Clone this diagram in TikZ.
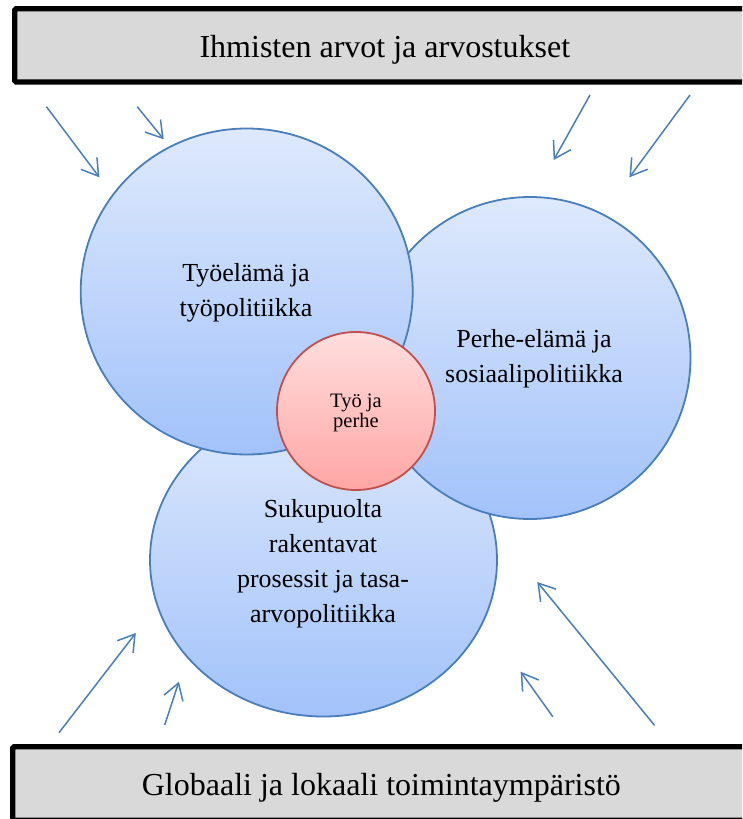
\documentclass[tikz,border=0pt]{standalone}
\usepackage{fontspec}
\setmainfont{Liberation Serif}
\usetikzlibrary{arrows.meta,shapes.geometric}
\definecolor{cblue}{RGB}{74,126,187}
\definecolor{ctop}{RGB}{222,233,252}
\definecolor{cbot}{RGB}{162,194,250}
\definecolor{rtop}{RGB}{255,222,222}
\definecolor{rbot}{RGB}{255,166,164}
\definecolor{rline}{RGB}{192,80,77}
\definecolor{bargray}{RGB}{217,217,217}
\begin{document}
\begin{tikzpicture}[x=1pt,y=-1pt,
  bluecirc/.style={ellipse, draw=cblue, line width=1.8pt, top color=ctop, bottom color=cbot, inner sep=0pt},
  redcirc/.style={circle, draw=rline, line width=1.8pt, top color=rtop, bottom color=rbot, inner sep=0pt, minimum size=158pt},
  bar/.style={draw=black, line width=5.3pt, fill=bargray, rounded corners=1.5pt, font=\fontsize{32}{38}\selectfont, text height=24pt, text depth=0pt, inner sep=0pt},
  ctext/.style={align=center, font=\fontsize{26}{35}\selectfont, inner sep=0pt},
  rtext/.style={align=center, font=\fontsize{20.5}{20}\selectfont, inner sep=0pt},
  flow/.style={draw=cblue, line width=1.5pt, -{Straight Barb[length=16pt,width=20pt]}},
]
\useasboundingbox (0,0) rectangle (742,819);
\clip (0,0) rectangle (742,819);

% bars
\node[bar, minimum width=740.3pt, minimum height=73.3pt] (top) at (384.85,45.35) {Ihmisten arvot ja arvostukset};
\node[bar, minimum width=737.3pt, minimum height=73.6pt] (bottom) at (381.35,783.5) {Globaali ja lokaali toimintaympäristö};

% circles
\node[bluecirc, minimum width=347pt, minimum height=313pt] (gender) at (323.5,560) {};
\node[bluecirc, minimum width=321pt, minimum height=322pt] (family) at (530,358) {};
\node[bluecirc, minimum width=332pt, minimum height=326pt] (work) at (246.7,291.5) {};
\node[redcirc] (both) at (356,411) {};

% texts (anchor=base is the baseline of the last line)
\node[ctext, anchor=base] (workt) at (246,316) {Työelämä ja\\työpolitiikka};
\node[ctext, anchor=base] (familyt) at (534,382.7) {Perhe-elämä ja\\sosiaalipolitiikka};
\node[ctext, anchor=base] (gendert) at (323,622) {Sukupuolta\\rakentavat\\prosessit ja tasa-\\arvopolitiikka};
\node[rtext, anchor=base] (botht) at (356,427) {Työ ja\\perhe};

% arrows
\coordinate (a1s) at (46.4,106.7);  \coordinate (a1e) at (99.4,177.3);
\coordinate (a2s) at (137.2,106.7); \coordinate (a2e) at (163.7,139.3);
\coordinate (a3s) at (590,95);      \coordinate (a3e) at (553.7,160);
\coordinate (a4s) at (690,95);      \coordinate (a4e) at (629.4,177.3);
\coordinate (a5s) at (59,732.7);    \coordinate (a5e) at (135.8,633);
\coordinate (a6s) at (164.7,725);   \coordinate (a6e) at (178.9,681.7);
\coordinate (a7s) at (552.8,716.7); \coordinate (a7e) at (520.6,671.7);
\coordinate (a8s) at (654.5,725.3); \coordinate (a8e) at (537.3,582);
\foreach \i in {1,...,8} {\draw[flow] (a\i s) -- (a\i e);}
\end{tikzpicture}
\end{document}
